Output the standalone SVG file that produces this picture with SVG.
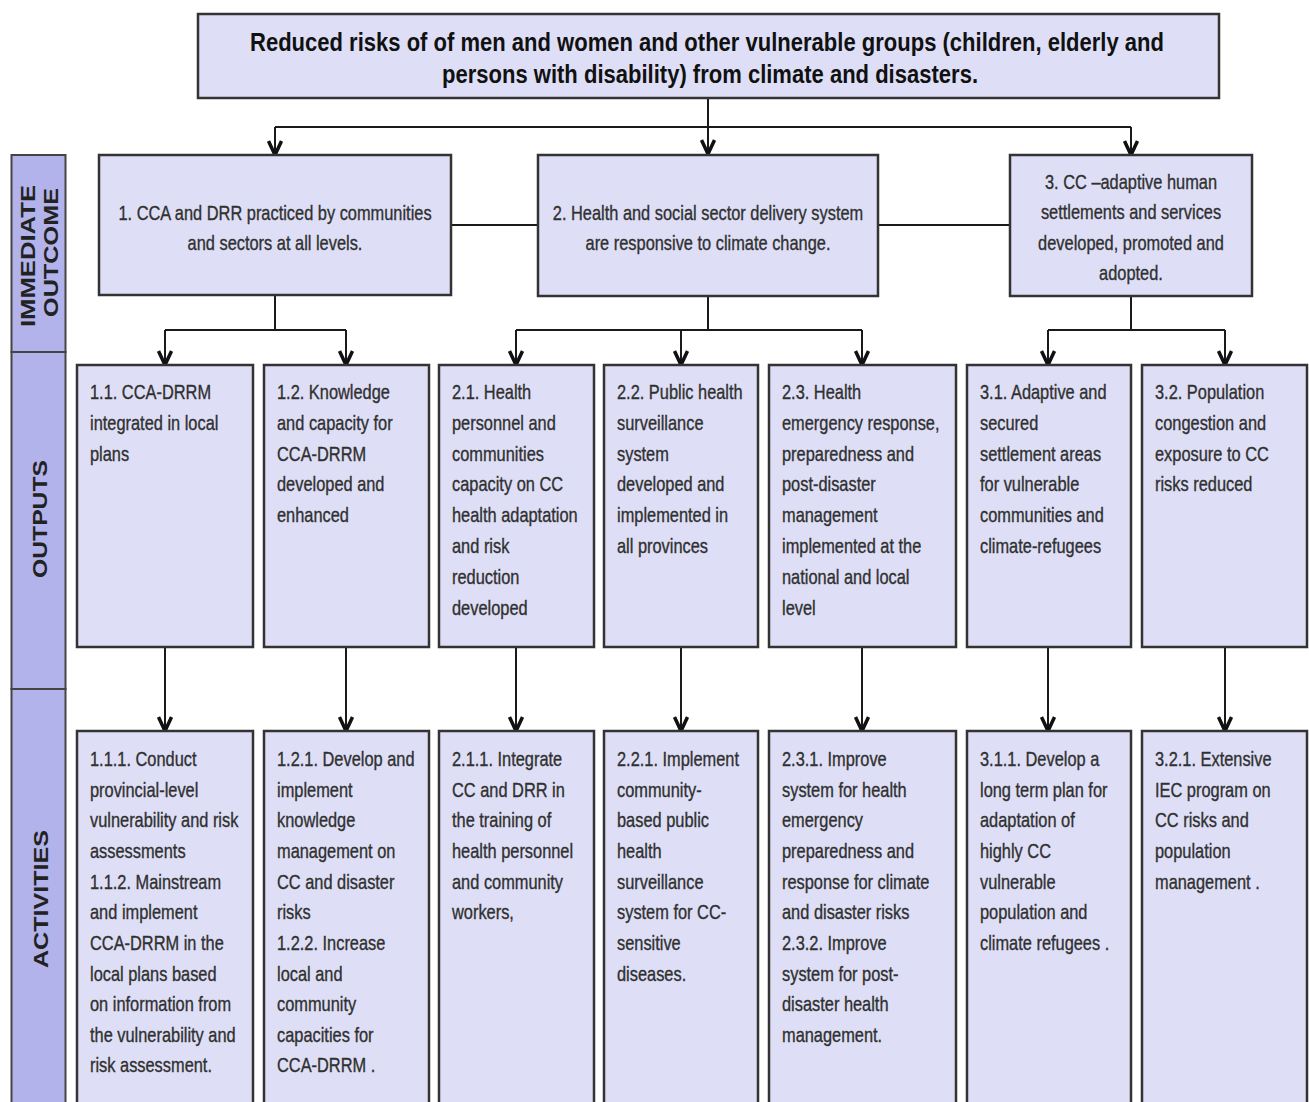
<svg xmlns="http://www.w3.org/2000/svg" width="1309" height="1102" viewBox="0 0 1309 1102">
  <style>
    .box { fill: #dedff6; stroke: #333; stroke-width: 2.5; }
    .band { fill: #b3b3eb; stroke: #444; stroke-width: 2; }
    .conn { stroke: #1a1a1a; stroke-width: 2; fill: none; }
    .arr { marker-end: url(#chev); }
    .t { font-family: "Liberation Sans", Arial, sans-serif; font-size: 20px; fill: #303030; stroke: #303030; stroke-width: 0.35; }
    .title { font-family: "Liberation Sans", Arial, sans-serif; font-weight: bold; font-size: 26px; fill: #111; }
    .lab { font-family: "Liberation Sans", Arial, sans-serif; font-weight: bold; font-size: 21px; fill: #222; }
  </style>
  <defs>
    <marker id="chev" markerUnits="userSpaceOnUse" viewBox="0 0 20 16" markerWidth="20" markerHeight="16" refX="17" refY="8" orient="auto">
      <path d="M3,1.5 L17,8 L3,14.5" fill="none" stroke="#111" stroke-width="3.5"/>
    </marker>
  </defs>
  <rect width="1309" height="1102" fill="#fff"/>

  <!-- Row labels -->
  <g id="band-outcome">
    <rect class="band" x="11.5" y="155" width="54" height="197"/>
    <text class="lab" transform="translate(35,256) rotate(-90)" text-anchor="middle" textLength="142" lengthAdjust="spacingAndGlyphs">IMMEDIATE</text>
    <text class="lab" transform="translate(58,252.5) rotate(-90)" text-anchor="middle" textLength="129" lengthAdjust="spacingAndGlyphs">OUTCOME</text>
  </g>
  <g id="band-outputs">
    <rect class="band" x="11.5" y="352" width="54" height="337"/>
    <text class="lab" transform="translate(47,519) rotate(-90)" text-anchor="middle" textLength="118" lengthAdjust="spacingAndGlyphs">OUTPUTS</text>
  </g>
  <g id="band-activities">
    <rect class="band" x="11.5" y="689" width="54" height="440"/>
    <text class="lab" transform="translate(48,899) rotate(-90)" text-anchor="middle" textLength="138" lengthAdjust="spacingAndGlyphs">ACTIVITIES</text>
  </g>

  <!-- Connectors -->
  <g id="connectors">
    <path class="conn arr" d="M708,98 V154"/>
    <path class="conn" d="M275,127 H1131"/>
    <path class="conn arr" d="M275,127 V155"/>
    <path class="conn arr" d="M1131,127 V155"/>
    <path class="conn" d="M451,225 H538 M878,225 H1010"/>
    <path class="conn" d="M275,295 V330 M165,330 H346 M708,296 V330 M516,330 H862 M1131,296 V330 M1048,330 H1225"/>
    <path class="conn arr" d="M165,330 V365"/>
    <path class="conn arr" d="M346,330 V365"/>
    <path class="conn arr" d="M516,330 V365"/>
    <path class="conn arr" d="M681,330 V365"/>
    <path class="conn arr" d="M862,330 V365"/>
    <path class="conn arr" d="M1048,330 V365"/>
    <path class="conn arr" d="M1225,330 V365"/>
    <path class="conn arr" d="M165,647 V731"/>
    <path class="conn arr" d="M346,647 V731"/>
    <path class="conn arr" d="M516,647 V731"/>
    <path class="conn arr" d="M681,647 V731"/>
    <path class="conn arr" d="M862,647 V731"/>
    <path class="conn arr" d="M1048,647 V731"/>
    <path class="conn arr" d="M1225,647 V731"/>
  </g>

  <!-- Goal -->
  <g id="goal">
    <rect class="box" x="198" y="14" width="1021" height="84"/>
    <text class="title" x="707" y="51" text-anchor="middle" textLength="914" lengthAdjust="spacingAndGlyphs">Reduced risks of of men and women and other vulnerable groups (children, elderly and</text>
    <text class="title" x="710" y="83" text-anchor="middle" textLength="536" lengthAdjust="spacingAndGlyphs">persons with disability) from climate and disasters.</text>
  </g>

  <!-- Immediate outcomes -->
  <g id="outcome-1">
    <rect class="box" x="99" y="155" width="352" height="140"/>
    <text class="t" transform="translate(275,220) scale(0.82,1)" text-anchor="middle"><tspan x="0" y="0">1. CCA and DRR practiced by communities</tspan><tspan x="0" y="30.5">and sectors at all levels.</tspan></text>
  </g>
  <g id="outcome-2">
    <rect class="box" x="538" y="155" width="340" height="141"/>
    <text class="t" transform="translate(708,220) scale(0.82,1)" text-anchor="middle"><tspan x="0" y="0">2. Health and social sector delivery system</tspan><tspan x="0" y="30.5">are responsive to climate change.</tspan></text>
  </g>
  <g id="outcome-3">
    <rect class="box" x="1010" y="155" width="242" height="141"/>
    <text class="t" transform="translate(1131,189) scale(0.82,1)" text-anchor="middle"><tspan x="0" y="0">3. CC –adaptive human</tspan><tspan x="0" y="30.5">settlements and services</tspan><tspan x="0" y="61">developed, promoted and</tspan><tspan x="0" y="91.5">adopted.</tspan></text>
  </g>

  <!-- Outputs -->
  <g id="output-1-1">
    <rect class="box" x="77" y="365" width="176" height="282"/>
    <text class="t" transform="translate(90,399) scale(0.82,1)"><tspan x="0" y="0">1.1. CCA-DRRM</tspan><tspan x="0" y="30.8">integrated in local</tspan><tspan x="0" y="61.6">plans</tspan></text>
  </g>
  <g id="output-1-2">
    <rect class="box" x="264" y="365" width="165" height="282"/>
    <text class="t" transform="translate(277,399) scale(0.82,1)"><tspan x="0" y="0">1.2. Knowledge</tspan><tspan x="0" y="30.8">and capacity for</tspan><tspan x="0" y="61.6">CCA-DRRM</tspan><tspan x="0" y="92.4">developed and</tspan><tspan x="0" y="123.2">enhanced</tspan></text>
  </g>
  <g id="output-2-1">
    <rect class="box" x="439" y="365" width="155" height="282"/>
    <text class="t" transform="translate(452,399) scale(0.82,1)"><tspan x="0" y="0">2.1. Health</tspan><tspan x="0" y="30.8">personnel and</tspan><tspan x="0" y="61.6">communities</tspan><tspan x="0" y="92.4">capacity on CC</tspan><tspan x="0" y="123.2">health adaptation</tspan><tspan x="0" y="154">and risk</tspan><tspan x="0" y="184.8">reduction</tspan><tspan x="0" y="215.6">developed</tspan></text>
  </g>
  <g id="output-2-2">
    <rect class="box" x="604" y="365" width="154" height="282"/>
    <text class="t" transform="translate(617,399) scale(0.82,1)"><tspan x="0" y="0">2.2. Public health</tspan><tspan x="0" y="30.8">surveillance</tspan><tspan x="0" y="61.6">system</tspan><tspan x="0" y="92.4">developed and</tspan><tspan x="0" y="123.2">implemented in</tspan><tspan x="0" y="154">all provinces</tspan></text>
  </g>
  <g id="output-2-3">
    <rect class="box" x="769" y="365" width="187" height="282"/>
    <text class="t" transform="translate(782,399) scale(0.82,1)"><tspan x="0" y="0">2.3. Health</tspan><tspan x="0" y="30.8">emergency response,</tspan><tspan x="0" y="61.6">preparedness and</tspan><tspan x="0" y="92.4">post-disaster</tspan><tspan x="0" y="123.2">management</tspan><tspan x="0" y="154">implemented at the</tspan><tspan x="0" y="184.8">national and local</tspan><tspan x="0" y="215.6">level</tspan></text>
  </g>
  <g id="output-3-1">
    <rect class="box" x="967" y="365" width="164" height="282"/>
    <text class="t" transform="translate(980,399) scale(0.82,1)"><tspan x="0" y="0">3.1. Adaptive and</tspan><tspan x="0" y="30.8">secured</tspan><tspan x="0" y="61.6">settlement areas</tspan><tspan x="0" y="92.4">for vulnerable</tspan><tspan x="0" y="123.2">communities and</tspan><tspan x="0" y="154">climate-refugees</tspan></text>
  </g>
  <g id="output-3-2">
    <rect class="box" x="1142" y="365" width="165" height="282"/>
    <text class="t" transform="translate(1155,399) scale(0.82,1)"><tspan x="0" y="0">3.2. Population</tspan><tspan x="0" y="30.8">congestion and</tspan><tspan x="0" y="61.6">exposure to CC</tspan><tspan x="0" y="92.4">risks reduced</tspan></text>
  </g>

  <!-- Activities -->
  <g id="activity-1-1">
    <rect class="box" x="77" y="731" width="176" height="400"/>
    <text class="t" transform="translate(90,766) scale(0.82,1)"><tspan x="0" y="0">1.1.1. Conduct</tspan><tspan x="0" y="30.65">provincial-level</tspan><tspan x="0" y="61.3">vulnerability and risk</tspan><tspan x="0" y="91.95">assessments</tspan><tspan x="0" y="122.6">1.1.2. Mainstream</tspan><tspan x="0" y="153.25">and implement</tspan><tspan x="0" y="183.9">CCA-DRRM in the</tspan><tspan x="0" y="214.55">local plans based</tspan><tspan x="0" y="245.2">on information from</tspan><tspan x="0" y="275.85">the vulnerability and</tspan><tspan x="0" y="306.5">risk assessment.</tspan></text>
  </g>
  <g id="activity-1-2">
    <rect class="box" x="264" y="731" width="165" height="400"/>
    <text class="t" transform="translate(277,766) scale(0.82,1)"><tspan x="0" y="0">1.2.1. Develop and</tspan><tspan x="0" y="30.65">implement</tspan><tspan x="0" y="61.3">knowledge</tspan><tspan x="0" y="91.95">management on</tspan><tspan x="0" y="122.6">CC and disaster</tspan><tspan x="0" y="153.25">risks</tspan><tspan x="0" y="183.9">1.2.2. Increase</tspan><tspan x="0" y="214.55">local and</tspan><tspan x="0" y="245.2">community</tspan><tspan x="0" y="275.85">capacities for</tspan><tspan x="0" y="306.5">CCA-DRRM .</tspan></text>
  </g>
  <g id="activity-2-1">
    <rect class="box" x="439" y="731" width="155" height="400"/>
    <text class="t" transform="translate(452,766) scale(0.82,1)"><tspan x="0" y="0">2.1.1. Integrate</tspan><tspan x="0" y="30.65">CC and DRR in</tspan><tspan x="0" y="61.3">the training of</tspan><tspan x="0" y="91.95">health personnel</tspan><tspan x="0" y="122.6">and community</tspan><tspan x="0" y="153.25">workers,</tspan></text>
  </g>
  <g id="activity-2-2">
    <rect class="box" x="604" y="731" width="154" height="400"/>
    <text class="t" transform="translate(617,766) scale(0.82,1)"><tspan x="0" y="0">2.2.1. Implement</tspan><tspan x="0" y="30.65">community-</tspan><tspan x="0" y="61.3">based public</tspan><tspan x="0" y="91.95">health</tspan><tspan x="0" y="122.6">surveillance</tspan><tspan x="0" y="153.25">system for CC-</tspan><tspan x="0" y="183.9">sensitive</tspan><tspan x="0" y="214.55">diseases.</tspan></text>
  </g>
  <g id="activity-2-3">
    <rect class="box" x="769" y="731" width="187" height="400"/>
    <text class="t" transform="translate(782,766) scale(0.82,1)"><tspan x="0" y="0">2.3.1. Improve</tspan><tspan x="0" y="30.65">system for health</tspan><tspan x="0" y="61.3">emergency</tspan><tspan x="0" y="91.95">preparedness and</tspan><tspan x="0" y="122.6">response for climate</tspan><tspan x="0" y="153.25">and disaster risks</tspan><tspan x="0" y="183.9">2.3.2. Improve</tspan><tspan x="0" y="214.55">system for post-</tspan><tspan x="0" y="245.2">disaster health</tspan><tspan x="0" y="275.85">management.</tspan></text>
  </g>
  <g id="activity-3-1">
    <rect class="box" x="967" y="731" width="164" height="400"/>
    <text class="t" transform="translate(980,766) scale(0.82,1)"><tspan x="0" y="0">3.1.1. Develop a</tspan><tspan x="0" y="30.65">long term plan for</tspan><tspan x="0" y="61.3">adaptation of</tspan><tspan x="0" y="91.95">highly CC</tspan><tspan x="0" y="122.6">vulnerable</tspan><tspan x="0" y="153.25">population and</tspan><tspan x="0" y="183.9">climate refugees .</tspan></text>
  </g>
  <g id="activity-3-2">
    <rect class="box" x="1142" y="731" width="165" height="400"/>
    <text class="t" transform="translate(1155,766) scale(0.82,1)"><tspan x="0" y="0">3.2.1. Extensive</tspan><tspan x="0" y="30.65">IEC program on</tspan><tspan x="0" y="61.3">CC risks and</tspan><tspan x="0" y="91.95">population</tspan><tspan x="0" y="122.6">management .</tspan></text>
  </g>
</svg>
